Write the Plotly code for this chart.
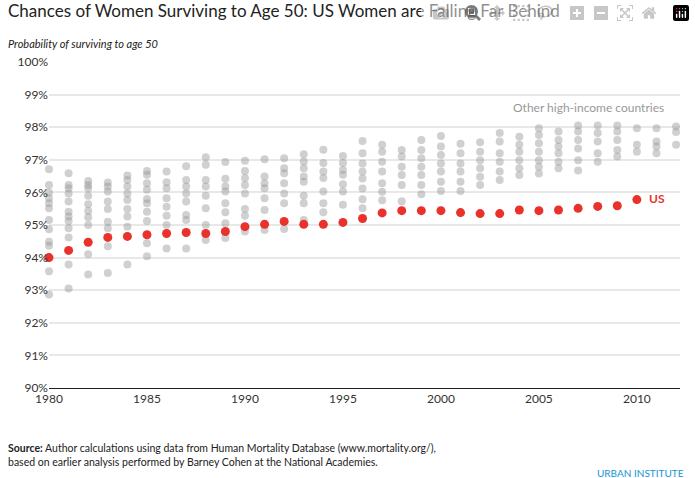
import plotly.graph_objects as go

years = list(range(1980, 2013))
us_years = list(range(1980, 2011))
us_values = [94.0, 94.22, 94.47, 94.62, 94.65, 94.7, 94.74, 94.77, 94.74, 94.8,
             94.95, 95.02, 95.11, 95.02, 95.02, 95.08, 95.2, 95.37, 95.44, 95.44,
             95.44, 95.38, 95.35, 95.35, 95.46, 95.44, 95.46, 95.51, 95.57, 95.59, 95.78]
others = [
    [96.71, 96.23, 96.0, 95.82, 95.67, 95.51, 95.15, 94.87, 94.49, 94.36, 93.58, 92.87],
    [96.59, 96.23, 96.13, 95.97, 95.72, 95.41, 95.26, 95.12, 94.9, 94.62, 93.79, 93.05],
    [96.35, 96.23, 96.13, 95.9, 95.64, 95.43, 95.24, 95.0, 94.1, 93.48],
    [96.3, 96.18, 96.03, 95.72, 95.49, 95.1, 94.9, 94.35, 93.53],
    [96.52, 96.38, 96.18, 95.97, 95.77, 95.49, 95.26, 94.95, 93.79],
    [96.66, 96.54, 96.28, 96.08, 95.8, 95.67, 95.41, 95.12, 94.44, 94.04],
    [96.64, 96.31, 96.13, 95.82, 95.56, 95.28, 95.0, 94.28],
    [96.8, 96.38, 96.18, 95.97, 95.72, 95.31, 95.15, 94.28],
    [97.08, 96.85, 96.38, 96.18, 95.9, 95.51, 95.0, 94.54],
    [96.93, 96.42, 96.18, 96.03, 95.67, 95.39, 95.05, 94.6],
    [96.97, 96.66, 96.44, 96.23, 95.97, 95.49, 95.28, 94.8],
    [97.02, 96.49, 96.28, 96.13, 95.82, 95.46, 94.85],
    [97.05, 96.74, 96.59, 96.28, 95.97, 95.67, 94.88],
    [97.17, 96.95, 96.74, 96.49, 96.33, 95.9, 95.67, 95.15],
    [97.31, 96.9, 96.64, 96.44, 96.03, 95.67, 95.39],
    [97.12, 96.9, 96.69, 96.54, 96.25, 96.03, 95.62],
    [97.58, 97.2, 96.89, 96.64, 96.43, 96.12, 95.79, 95.51],
    [97.46, 97.25, 96.94, 96.64, 96.28, 96.02, 95.76],
    [97.3, 97.1, 96.79, 96.53, 96.23, 95.73],
    [97.61, 97.3, 97.05, 96.79, 96.53, 96.23, 95.94],
    [97.73, 97.41, 97.15, 96.89, 96.64, 96.33, 96.04],
    [97.49, 97.2, 96.89, 96.64, 96.33, 96.04],
    [97.54, 97.25, 96.99, 96.74, 96.48, 96.23],
    [97.82, 97.56, 97.2, 96.94, 96.64, 96.38],
    [97.71, 97.46, 97.25, 96.99, 96.74, 96.53],
    [97.97, 97.76, 97.51, 97.25, 96.99, 96.79, 96.58],
    [97.87, 97.61, 97.41, 97.2, 96.94, 96.74],
    [98.05, 97.87, 97.61, 97.35, 96.99, 96.67],
    [98.05, 97.82, 97.56, 97.2, 96.94],
    [98.05, 97.87, 97.61, 97.3, 97.1],
    [97.97, 97.46, 97.25],
    [97.97, 97.56, 97.41, 97.2],
    [98.02, 97.85, 97.46],
]
y_ticks = [90, 91, 92, 93, 94, 95, 96, 97, 98, 99, 100]
x_ticks = [1980, 1985, 1990, 1995, 2000, 2005, 2010]

ox, oy = [], []
for yr, vals in zip(years, others):
    for v in vals:
        ox.append(yr)
        oy.append(v)

fig = go.Figure()
fig.add_trace(go.Scatter(x=ox, y=oy, mode="markers", cliponaxis=False,
                         marker=dict(size=8, color="rgba(150,150,150,0.45)"), hoverinfo="skip"))
fig.add_trace(go.Scatter(x=us_years, y=us_values, mode="markers", cliponaxis=False,
                         marker=dict(size=9, color="#e8322b")))

font = "Lato, 'Open Sans', sans-serif"
fig.update_layout(
    width=695, height=478, showlegend=False,
    paper_bgcolor="white", plot_bgcolor="white",
    margin=dict(l=49, r=15, t=62, b=90),
    font=dict(family=font, size=12, color="#333"),
    xaxis=dict(range=[1980, 2012.2], tickvals=x_ticks, showgrid=False, zeroline=False,
               showline=True, linecolor="#222", linewidth=1, ticks="", tickfont=dict(size=12, color="#333")),
    yaxis=dict(range=[90, 100], tickvals=y_ticks, ticktext=[f"{t}%" for t in y_ticks],
               showgrid=True, gridcolor="#e8e8e8", gridwidth=1.5, zeroline=False,
               ticks="", tickfont=dict(size=12, color="#333")),
    annotations=[
        dict(text="Chances of Women Surviving to Age 50: US Women are Falling Far Behind",
             xref="paper", yref="paper", x=-0.068, y=1.12, xanchor="left", yanchor="bottom",
             showarrow=False, font=dict(size=17, color="#222", family=font)),
        dict(text="<i>Probability of surviving to age 50</i>", xref="paper", yref="paper",
             x=-0.068, y=1.03, xanchor="left", yanchor="bottom", showarrow=False,
             font=dict(size=11, color="#222")),
        dict(text="Other high-income countries", x=2011.5, y=98.6, xanchor="right",
             showarrow=False, font=dict(size=12, color="#999")),
        dict(text="<b>US</b>", x=2010.5, y=95.82, xanchor="left", showarrow=False,
             font=dict(size=12, color="#e8322b")),
        dict(text="<b>Source:</b> Author calculations using data from Human Mortality Database (www.mortality.org/),<br>based on earlier analysis performed by Barney Cohen at the National Academies.",
             xref="paper", yref="paper", x=-0.068, y=-0.16, xanchor="left", yanchor="top",
             align="left", showarrow=False, font=dict(size=10.5, color="#222")),
        dict(text="URBAN INSTITUTE", xref="paper", yref="paper", x=1.01, y=-0.235,
             xanchor="right", yanchor="top", showarrow=False,
             font=dict(size=10, color="#1696d2")),
    ],
)
fig.write_html("out.html", post_script="document.body.style.margin='0';document.body.style.overflow='hidden';")
